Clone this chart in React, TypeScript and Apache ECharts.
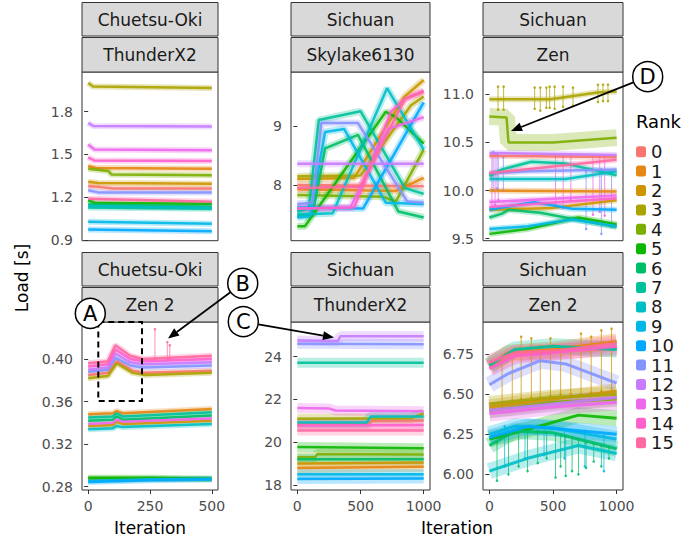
import React, { useEffect, useRef } from "react";
import * as echarts from "echarts";

const RANKS = ["0", "1", "2", "3", "4", "5", "6", "7", "8", "9", "10", "11", "12", "13", "14", "15"];
const RANK_COLORS = [
  "#F8766D", "#E68613", "#CD9600", "#ABA300", "#7CAE00", "#0CB702", "#00BE67", "#00C19A",
  "#00BFC4", "#00B8E7", "#00A9FF", "#8494FF", "#C77CFF", "#ED68ED", "#FF61CC", "#FF68A1",
];

const SYSTEMS = ["Chuetsu-Oki", "Sichuan", "Sichuan", "Chuetsu-Oki", "Sichuan", "Sichuan"];
const CPUS = ["ThunderX2", "Skylake6130", "Zen", "Zen 2", "ThunderX2", "Zen 2"];
const Y_TICKS = [
  [0.9, 1.2, 1.5, 1.8],
  [8, 9],
  [9.5, 10, 10.5, 11],
  [0.28, 0.32, 0.36, 0.4],
  [18, 20, 22, 24],
  [6, 6.25, 6.5, 6.75],
];
const Y_DECIMALS = [1, 0, 1, 2, 0, 2];
const X_TICKS = [
  [0, 250, 500],
  [0, 500, 1000],
  [0, 500, 1000],
  [0, 250, 500],
  [0, 500, 1000],
  [0, 500, 1000],
];

// [iteration, load] per rank (index = rank)
const chuetsuThunderX2 = [
  [[0, 1.28], [60, 1.27], [100, 1.262], [500, 1.262]],
  [[0, 1.42], [30, 1.405], [500, 1.4]],
  [[0, 1.31], [40, 1.3], [500, 1.295]],
  [[0, 2.0], [20, 1.975], [500, 1.965]],
  [[0, 1.4], [80, 1.385], [95, 1.36], [500, 1.355]],
  [[0, 1.18], [30, 1.16], [500, 1.155]],
  [[0, 1.15], [500, 1.135]],
  [[0, 1.13], [500, 1.12]],
  [[0, 1.14], [500, 1.128]],
  [[0, 1.03], [500, 1.015]],
  [[0, 0.975], [500, 0.963]],
  [[0, 1.25], [40, 1.235], [500, 1.235]],
  [[0, 1.72], [20, 1.7], [500, 1.695]],
  [[0, 1.57], [25, 1.535], [500, 1.53]],
  [[0, 1.48], [25, 1.458], [500, 1.455]],
  [[0, 1.19], [500, 1.17]],
];

const sichuanSkylake6130 = [
  [[0, 8.0], [1000, 7.98]],
  [[0, 7.93], [780, 7.9], [1000, 8.12]],
  [[0, 8.1], [450, 8.12], [850, 9.5], [1000, 9.78]],
  [[0, 8.15], [500, 8.16], [900, 9.35], [1000, 9.5]],
  [[0, 7.83], [680, 7.8], [780, 7.72], [1000, 8.6]],
  [[0, 7.3], [60, 7.3], [700, 9.24], [780, 9.15], [1000, 8.7]],
  [[0, 7.48], [120, 7.5], [220, 8.62], [480, 8.85], [800, 7.55], [1000, 7.45]],
  [[0, 7.55], [90, 7.6], [170, 9.1], [500, 9.25], [850, 7.95], [1000, 7.85]],
  [[0, 7.5], [280, 7.52], [710, 9.64], [1000, 8.6]],
  [[0, 7.45], [100, 7.47], [220, 8.9], [370, 8.95], [700, 7.7], [1000, 7.68]],
  [[0, 7.62], [520, 7.6], [1000, 9.4]],
  [[0, 7.68], [120, 7.7], [190, 9.05], [480, 9.05], [870, 7.72], [1000, 7.7]],
  [[0, 8.36], [1000, 8.36]],
  [[0, 7.6], [420, 7.62], [720, 8.95], [1000, 9.15]],
  [[0, 7.6], [450, 7.62], [530, 8.05], [740, 9.24], [850, 9.46], [1000, 9.6]],
  [[0, 7.95], [500, 7.97], [850, 9.45], [1000, 9.58]],
];

const sichuanZen = [
  [[0, 10.36], [1000, 10.35]],
  [[0, 10.0], [1000, 9.99]],
  [[0, 9.8], [500, 9.82], [1000, 9.9]],
  [[0, 10.95], [480, 10.95], [850, 11.02], [1000, 11.03]],
  [[0, 10.77], [135, 10.76], [150, 10.5], [500, 10.5], [1000, 10.55]],
  [[0, 9.55], [300, 9.6], [700, 9.72], [1000, 9.65]],
  [[0, 9.72], [100, 9.76], [150, 9.8], [400, 9.77], [1000, 9.62]],
  [[0, 10.15], [100, 10.22], [330, 10.3], [600, 10.28], [1000, 10.16]],
  [[0, 10.12], [600, 10.12], [1000, 10.2]],
  [[0, 9.6], [300, 9.63], [650, 9.7], [1000, 9.63]],
  [[0, 9.8], [350, 9.88], [650, 9.81], [1000, 9.8]],
  [[0, 10.18], [300, 10.2], [1000, 10.22]],
  [[0, 10.39], [1000, 10.37]],
  [[0, 9.88], [1000, 9.95]],
  [[0, 9.83], [1000, 9.92]],
  [[0, 10.18], [1000, 10.32]],
];

const chuetsuZen2 = [
  [[0, 0.385], [80, 0.387], [115, 0.398], [180, 0.389], [230, 0.387], [500, 0.389]],
  [[0, 0.348], [100, 0.349], [115, 0.351], [140, 0.349], [500, 0.353]],
  [[0, 0.337], [100, 0.338], [115, 0.341], [140, 0.339], [500, 0.342]],
  [[0, 0.382], [80, 0.384], [115, 0.396], [180, 0.387], [230, 0.385], [500, 0.387]],
  [[0, 0.2875], [500, 0.2872]],
  [[0, 0.2885], [250, 0.2885], [500, 0.2875]],
  [[0, 0.342], [100, 0.343], [115, 0.346], [140, 0.343], [500, 0.347]],
  [[0, 0.345], [100, 0.346], [115, 0.349], [140, 0.346], [500, 0.35]],
  [[0, 0.334], [100, 0.335], [115, 0.337], [140, 0.336], [500, 0.339]],
  [[0, 0.2855], [250, 0.287], [500, 0.2875]],
  [[0, 0.2845], [250, 0.286], [500, 0.2868]],
  [[0, 0.388], [80, 0.39], [110, 0.401], [170, 0.394], [220, 0.392], [500, 0.394]],
  [[0, 0.39], [80, 0.392], [110, 0.405], [170, 0.397], [220, 0.395], [500, 0.397]],
  [[0, 0.339], [100, 0.34], [115, 0.343], [140, 0.341], [500, 0.344]],
  [[0, 0.393], [80, 0.395], [110, 0.409], [170, 0.4], [220, 0.398], [500, 0.4]],
  [[0, 0.396], [80, 0.398], [110, 0.413], [170, 0.403], [220, 0.4], [500, 0.403]],
];

const sichuanThunderX2 = [
  [[0, 20.85], [560, 20.85], [590, 21.0], [1000, 21.02]],
  [[0, 18.8], [1000, 18.85]],
  [[0, 19.0], [1000, 19.05]],
  [[0, 21.1], [900, 21.12], [1000, 21.35]],
  [[0, 19.3], [140, 19.3], [160, 19.45], [1000, 19.42]],
  [[0, 19.78], [1000, 19.72]],
  [[0, 19.2], [1000, 19.2]],
  [[0, 23.72], [1000, 23.72]],
  [[0, 20.92], [550, 20.92], [580, 21.2], [1000, 21.2]],
  [[0, 18.5], [1000, 18.5]],
  [[0, 18.28], [1000, 18.3]],
  [[0, 24.6], [1000, 24.58]],
  [[0, 24.75], [320, 24.72], [340, 24.95], [1000, 24.95]],
  [[0, 21.6], [250, 21.58], [300, 21.48], [1000, 21.45]],
  [[0, 20.78], [1000, 20.8]],
  [[0, 20.55], [1000, 20.55]],
];

const sichuanZen2 = [
  [[0, 6.67], [200, 6.75], [1000, 6.79]],
  [[0, 6.68], [150, 6.76], [500, 6.78], [1000, 6.83]],
  [[0, 6.42], [500, 6.47], [1000, 6.52]],
  [[0, 6.44], [500, 6.48], [1000, 6.5]],
  [[0, 6.4], [500, 6.45], [1000, 6.47]],
  [[0, 6.22], [300, 6.28], [700, 6.37], [1000, 6.35]],
  [[0, 6.18], [200, 6.27], [500, 6.26], [1000, 6.16]],
  [[0, 6.68], [200, 6.78], [500, 6.8], [1000, 6.78]],
  [[0, 6.02], [300, 6.1], [700, 6.18], [1000, 6.13]],
  [[0, 6.25], [200, 6.3], [500, 6.29], [1000, 6.22]],
  [[0, 6.23], [300, 6.3], [600, 6.28], [1000, 6.25]],
  [[0, 6.56], [150, 6.63], [400, 6.71], [600, 6.69], [1000, 6.57]],
  [[0, 6.4], [500, 6.44], [1000, 6.48]],
  [[0, 6.38], [500, 6.42], [1000, 6.45]],
  [[0, 6.66], [200, 6.74], [500, 6.76], [1000, 6.8]],
  [[0, 6.7], [200, 6.76], [500, 6.77], [1000, 6.82]],
];

const PANEL_DATA = [chuetsuThunderX2, sichuanSkylake6130, sichuanZen, chuetsuZen2, sichuanThunderX2, sichuanZen2];

// error bars: [iteration, low, high]
const zenRank3Bars = [
  [68, 10.84, 11.08], [112, 10.84, 11.08], [356, 10.85, 11.07], [400, 10.83, 11.07], [448, 10.86, 11.07],
  [474, 10.86, 11.08], [513, 10.85, 11.08], [579, 10.87, 11.08], [657, 10.88, 11.07], [853, 10.92, 11.1],
  [893, 10.93, 11.1], [932, 10.93, 11.1],
];
const zenRank13Bars = [
  [20, 9.8, 10.38], [45, 9.85, 10.38], [70, 9.9, 10.37], [520, 9.85, 10.36], [580, 9.82, 10.36],
  [640, 9.9, 10.36], [814, 9.75, 10.36], [867, 9.78, 10.36], [906, 9.74, 10.36],
];
const zenRank11Bars = [
  [30, 10.0, 10.4], [60, 10.02, 10.38], [110, 10.0, 10.35], [760, 9.6, 10.2], [880, 9.55, 10.22], [960, 9.62, 10.2],
];
const zen2Chuetsu15Bars = [[270, 0.4, 0.428], [320, 0.4, 0.416], [330, 0.4, 0.413]];
const zen2Sichuan6Bars = [
  [60, 5.96, 6.2], [150, 6.0, 6.25], [230, 6.05, 6.27], [300, 6.02, 6.27], [380, 6.07, 6.27], [450, 6.1, 6.26],
  [520, 5.98, 6.25], [560, 6.05, 6.25], [600, 5.99, 6.24], [650, 6.02, 6.23], [700, 6.0, 6.22], [760, 6.04, 6.2],
  [820, 6.08, 6.19], [880, 6.05, 6.18], [940, 6.1, 6.17],
];
const zen2Sichuan2Bars = [
  [100, 6.44, 6.72], [180, 6.46, 6.75], [250, 6.47, 6.86], [330, 6.48, 6.85], [400, 6.48, 6.8], [480, 6.49, 6.85],
  [560, 6.5, 6.78], [640, 6.5, 6.8], [720, 6.5, 6.88], [800, 6.51, 6.86], [880, 6.52, 6.9], [960, 6.52, 6.91],
];
const zen2Sichuan9Bars = [
  [120, 6.05, 6.3], [280, 6.1, 6.3], [430, 6.12, 6.3], [590, 6.1, 6.28], [750, 6.05, 6.27], [900, 6.02, 6.24],
];
const ERROR_BAR_SETS = [
  { panel: 2, rank: 3, bars: zenRank3Bars },
  { panel: 2, rank: 13, bars: zenRank13Bars },
  { panel: 2, rank: 11, bars: zenRank11Bars },
  { panel: 3, rank: 15, bars: zen2Chuetsu15Bars },
  { panel: 5, rank: 6, bars: zen2Sichuan6Bars },
  { panel: 5, rank: 2, bars: zen2Sichuan2Bars },
  { panel: 5, rank: 9, bars: zen2Sichuan9Bars },
];

// ---------- layout / style ----------
const FONT = "DejaVu Sans";
const COL_LEFT = [82, 291, 483];
const COL_WIDTH = [136, 139, 140];
const ROW_TOP = [72, 322];
const ROW_HEIGHT = [168.7, 168];
const X_RANGE = [[-25, 525], [-50, 1050], [-50, 1050], [-25, 525], [-50, 1050], [-50, 1050]];
const Y_RANGE = [[0.897, 2.077], [7.056, 9.915], [9.479, 11.232], [0.2769, 0.4348], [17.766, 25.62], [5.902, 6.952]];
const LINE_W = [2.5, 2.5, 2.5, 2.5, 2.5, 3];
const HALO_W = [6, 7, 6, 6, 10, 16];
const HALO_OVERRIDE: Record<string, number> = { "2-4": 17 };

function arrow(x1: number, y1: number, x2: number, y2: number) {
  const dx = x2 - x1, dy = y2 - y1;
  const len = Math.hypot(dx, dy);
  const ux = dx / len, uy = dy / len;
  const hl = 11, hw = 4.5;
  const bx = x2 - ux * hl, by = y2 - uy * hl;
  return [
    { type: "line", z: 100, shape: { x1, y1, x2: bx, y2: by }, style: { stroke: "#000", lineWidth: 1.7 } },
    {
      type: "polygon", z: 100,
      shape: { points: [[x2, y2], [bx - uy * hw, by + ux * hw], [bx + uy * hw, by - ux * hw]] },
      style: { fill: "#000" },
    },
  ];
}

function badge(cx: number, cy: number, letter: string) {
  return [
    { type: "circle", z: 101, shape: { cx, cy, r: 15 }, style: { fill: "#fff", stroke: "#000", lineWidth: 1.5 } },
    {
      type: "text", z: 102, x: cx, y: cy + 0.5,
      style: { text: letter, font: `21px "${FONT}"`, fill: "#000", textAlign: "center", textVerticalAlign: "middle" },
    },
  ];
}

function buildOption() {
  const grid: any[] = [], xAxis: any[] = [], yAxis: any[] = [], series: any[] = [], elements: any[] = [];
  for (let p = 0; p < 6; p++) {
    const col = p % 3, row = Math.floor(p / 3);
    const left = COL_LEFT[col], width = COL_WIDTH[col], top = ROW_TOP[row], height = ROW_HEIGHT[row];
    grid.push({ left, top, width, height, show: true, borderColor: "#333333", borderWidth: 1, backgroundColor: "#ffffff", containLabel: false });
    const bottomRow = row === 1;
    xAxis.push({
      type: "value", gridIndex: p, min: X_RANGE[p][0], max: X_RANGE[p][1],
      axisLine: { show: false }, splitLine: { show: false },
      axisTick: { show: bottomRow, length: 4, lineStyle: { color: "#333333" }, customValues: X_TICKS[p] },
      axisLabel: {
        show: bottomRow, customValues: X_TICKS[p], color: "#4D4D4D", fontSize: 14, margin: 9, fontFamily: FONT,
        formatter: (v: number) => String(v),
      },
    });
    const dec = Y_DECIMALS[p];
    yAxis.push({
      type: "value", gridIndex: p, min: Y_RANGE[p][0], max: Y_RANGE[p][1],
      axisLine: { show: false }, splitLine: { show: false },
      axisTick: { show: true, length: 4, lineStyle: { color: "#333333" }, customValues: Y_TICKS[p] },
      axisLabel: {
        show: true, customValues: Y_TICKS[p], color: "#4D4D4D", fontSize: 14, margin: 9, fontFamily: FONT,
        formatter: (v: number) => v.toFixed(dec),
      },
    });
    // halos (noisy band look)
    PANEL_DATA[p].forEach((pts, r) => {
      series.push({
        type: "line", name: RANKS[r], xAxisIndex: p, yAxisIndex: p, data: pts,
        showSymbol: false, symbol: "none", silent: true, clip: true, z: 1,
        lineStyle: { color: RANK_COLORS[r], width: HALO_OVERRIDE[`${p}-${r}`] ?? HALO_W[p], opacity: 0.28 },
        itemStyle: { color: RANK_COLORS[r] },
        emphasis: { disabled: true },
      });
    });
    PANEL_DATA[p].forEach((pts, r) => {
      series.push({
        type: "line", name: RANKS[r], xAxisIndex: p, yAxisIndex: p, data: pts,
        showSymbol: false, symbol: "none", silent: true, clip: true, z: 3,
        lineStyle: { color: RANK_COLORS[r], width: LINE_W[p], opacity: 0.9 },
        itemStyle: { color: RANK_COLORS[r] },
        emphasis: { disabled: true },
      });
    });
    // strips
    const labels = [SYSTEMS[p], CPUS[p]];
    const stripTops = [top - 69.5, top - 34.5];
    const stripHs = [33.5, 34.5];
    labels.forEach((lab, i) => {
      elements.push({
        type: "rect", z: 10, shape: { x: left, y: stripTops[i], width, height: stripHs[i] },
        style: { fill: "#D9D9D9", stroke: "#333333", lineWidth: 1 },
      });
      elements.push({
        type: "text", z: 11, x: left + width / 2, y: stripTops[i] + stripHs[i] / 2 + 0.5,
        style: { text: lab, font: `17px "${FONT}"`, fill: "#1A1A1A", textAlign: "center", textVerticalAlign: "middle" },
      });
    });
  }

  ERROR_BAR_SETS.forEach((set) => {
    const color = RANK_COLORS[set.rank];
    series.push({
      type: "custom", name: RANKS[set.rank], xAxisIndex: set.panel, yAxisIndex: set.panel,
      data: set.bars, silent: true, z: 2, clip: true,
      renderItem: (_params: any, api: any) => {
        const a = api.coord([api.value(0), api.value(1)]);
        const b = api.coord([api.value(0), api.value(2)]);
        return {
          type: "group",
          children: [
            { type: "line", shape: { x1: a[0], y1: a[1], x2: b[0], y2: b[1] }, style: { stroke: color, lineWidth: 1, opacity: 0.75 } },
            { type: "circle", shape: { cx: a[0], cy: a[1], r: 1.3 }, style: { fill: color, opacity: 0.85 } },
            { type: "circle", shape: { cx: b[0], cy: b[1], r: 1.3 }, style: { fill: color, opacity: 0.85 } },
          ],
        };
      },
    });
  });

  // axis titles
  elements.push({
    type: "text", z: 20, x: 22, y: 278, rotation: Math.PI / 2,
    style: { text: "Load [s]", font: `17px "${FONT}"`, fill: "#000", textAlign: "center", textVerticalAlign: "middle" },
  });
  elements.push({
    type: "text", z: 20, x: 150, y: 528,
    style: { text: "Iteration", font: `17px "${FONT}"`, fill: "#000", textAlign: "center", textVerticalAlign: "middle" },
  });
  elements.push({
    type: "text", z: 20, x: 457, y: 528,
    style: { text: "Iteration", font: `17px "${FONT}"`, fill: "#000", textAlign: "center", textVerticalAlign: "middle" },
  });
  elements.push({
    type: "text", z: 20, x: 636, y: 121,
    style: { text: "Rank", font: `18px "${FONT}"`, fill: "#000", textAlign: "left", textVerticalAlign: "middle" },
  });

  // annotations
  elements.push({
    type: "rect", z: 99, shape: { x: 98.3, y: 322, width: 43.7, height: 79 },
    style: { fill: "none", stroke: "#000", lineWidth: 2, lineDash: [6, 4] },
  });
  elements.push(...arrow(230.4, 292.3, 168, 338.5));
  elements.push(...arrow(258.4, 324.3, 334, 337.5));
  elements.push(...arrow(634, 82.1, 511, 131));
  elements.push(...badge(90.3, 313.3, "A"));
  elements.push(...badge(242.7, 283.3, "B"));
  elements.push(...badge(243.3, 321.7, "C"));
  elements.push(...badge(647.7, 76.7, "D"));

  return {
    animation: false,
    backgroundColor: "#ffffff",
    textStyle: { fontFamily: FONT },
    grid, xAxis, yAxis, series,
    legend: {
      orient: "vertical", left: 636, top: 142, padding: 0, itemGap: 0,
      itemWidth: 10, itemHeight: 11, icon: "roundRect", selectedMode: false,
      data: RANKS,
      textStyle: { fontSize: 18, color: "#1A1A1A", fontFamily: FONT, lineHeight: 19.4 },
    },
    graphic: { elements },
  };
}

export default function App() {
  const ref = useRef<HTMLDivElement>(null);
  useEffect(() => {
    const chart = echarts.init(ref.current!, null, { renderer: "svg" });
    chart.setOption(buildOption() as any);
    return () => chart.dispose();
  }, []);
  return (
    <div
      ref={ref}
      style={{ position: "absolute", left: 0, top: 0, width: 700, height: 541, background: "#fff" }}
    />
  );
}
